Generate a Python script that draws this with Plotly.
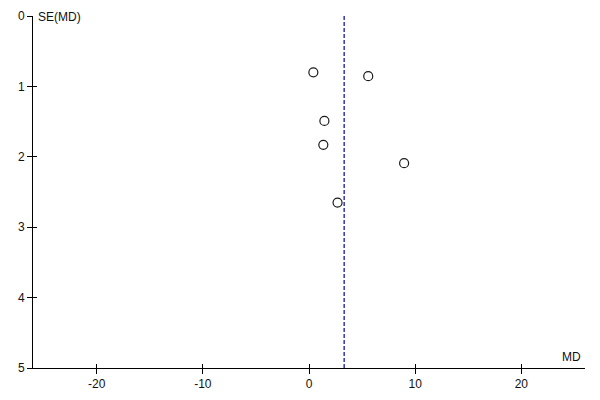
"""
Funnel plot: MD against SE(MD), pooled estimate as dashed line.
"""
import plotly.graph_objects as go

# study estimates
md = [0.41, 5.58, 1.45, 1.35, 8.96, 2.69]
se_md = [0.80, 0.855, 1.49, 1.83, 2.09, 2.65]
pooled_md = 3.31

x_range = [-26, 26]
y_range = [5, 0]
x_ticks = [-20, -10, 0, 10, 20]
x_labels = ["-20", "-10", "0", "10", "20"]
y_ticks = [0, 1, 2, 3, 4, 5]

FONT = dict(family="Liberation Sans, Arial, sans-serif", size=12, color="#111111")

fig = go.Figure()
fig.add_trace(go.Scatter(
    x=md, y=se_md, mode="markers",
    marker=dict(symbol="circle", size=9, color="white",
                line=dict(color="#1a1a1a", width=1.2)),
    showlegend=False, hoverinfo="x+y",
))
# pooled estimate
fig.add_trace(go.Scatter(
    x=[pooled_md, pooled_md], y=y_range, mode="lines",
    line=dict(color="#0000a8", width=1.2, dash="4px,2px"),
    showlegend=False, hoverinfo="skip",
))
# invisible trace so the overlay axes (inner half of the ticks) get drawn
fig.add_trace(go.Scatter(x=[0], y=[0], xaxis="x2", yaxis="y2", mode="markers",
                         marker=dict(opacity=0), showlegend=False, hoverinfo="skip"))

axis_common = dict(showgrid=False, zeroline=False, showline=True,
                   linecolor="black", linewidth=1, tickcolor="black",
                   tickwidth=1, tickfont=FONT, automargin=False)

# page body adds 8px offset, margins compensate for it
fig.update_layout(
    width=600, height=400,
    margin=dict(l=25, r=23, t=8, b=40),
    paper_bgcolor="white", plot_bgcolor="white",
    font=FONT,
    xaxis=dict(range=x_range, tickvals=x_ticks, ticktext=x_labels,
               ticks="outside", ticklen=5, **axis_common),
    yaxis=dict(range=y_range, tickvals=y_ticks, ticks="outside",
               ticklen=5, **axis_common),
    # overlay axes give the ticks their inner half, so they cross the line
    xaxis2=dict(range=x_range, tickvals=x_ticks, ticks="inside", overlaying="x",
                anchor="y2", side="bottom", showticklabels=False,
                ticklen=4, **axis_common),
    yaxis2=dict(range=y_range, tickvals=y_ticks, ticks="inside", overlaying="y",
                anchor="x2", side="left", showticklabels=False,
                ticklen=4, **axis_common),
    annotations=[
        dict(text="SE(MD)", xref="paper", yref="paper", x=0.005, y=1.0,
             xanchor="left", yanchor="top", showarrow=False, font=FONT, yshift=8),
        dict(text="MD", xref="paper", yref="paper", x=0.997, y=0.0,
             xanchor="right", yanchor="bottom", showarrow=False, font=FONT, yshift=2),
    ],
)

fig.write_html("out.html")
